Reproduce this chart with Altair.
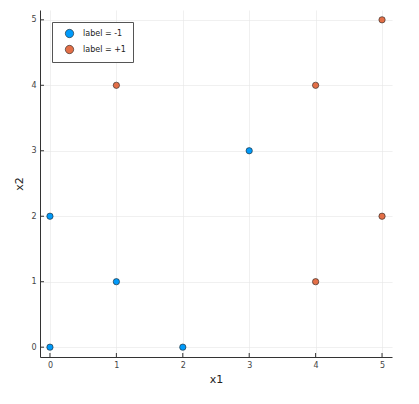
import altair as alt
import pandas as pd

x_neg = [0, 0, 1, 2, 3]
y_neg = [0, 2, 1, 0, 3]
x_pos = [1, 4, 5, 5, 4]
y_pos = [4, 4, 5, 2, 1]
ticks = [0, 1, 2, 3, 4, 5]

df = pd.DataFrame({
    "x1": x_neg + x_pos,
    "x2": y_neg + y_pos,
    "label": ["label = -1"] * len(x_neg) + ["label = +1"] * len(x_pos),
})
tdf = pd.DataFrame({"x1": ticks, "x2": ticks})

W, H = 352, 347
xs = alt.Scale(domain=[-0.15, 5.15], nice=False, zero=False)
ys = alt.Scale(domain=[-0.15, 5.15], nice=False, zero=False)

axis_common = dict(
    values=ticks, grid=True, gridColor="#e6e6e6", gridWidth=0.6,
    domainColor="#333333", domainWidth=1, ticks=False,
    labelFont="DejaVu Sans", labelFontSize=8, labelColor="#444444",
    titleFont="DejaVu Sans", titleFontSize=11, titleFontWeight="normal",
    titleColor="#222222", format="d",
)
xaxis = alt.Axis(title="x1", labelPadding=4, titlePadding=4, **axis_common)
yaxis = alt.Axis(title="x2", labelPadding=4, titlePadding=6, **axis_common)

points = alt.Chart(df).mark_circle(size=40, opacity=1, stroke="#222222", strokeWidth=0.6).encode(
    x=alt.X("x1:Q", scale=xs, axis=xaxis),
    y=alt.Y("x2:Q", scale=ys, axis=yaxis),
    color=alt.Color("label:N",
                    scale=alt.Scale(domain=["label = -1", "label = +1"], range=["#009AFA", "#E36F47"]),
                    legend=alt.Legend(title=None, orient="none", legendX=12, legendY=12,
                                      fillColor="white", strokeColor="#555555", padding=7,
                                      symbolSize=70, symbolStrokeColor="#222222", symbolStrokeWidth=0.6,
                                      symbolOffset=6, labelOffset=9,
                                      labelExpr="datum.label + '\u00a0\u00a0\u00a0\u00a0'",
                                      labelFont="DejaVu Sans", labelFontSize=8, labelColor="#222222",
                                      rowPadding=5, labelLimit=120,
                                      symbolType="circle")),
)

xt = alt.Chart(tdf).mark_rule(color="#333333", strokeWidth=1).encode(
    x=alt.X("x1:Q", scale=xs, axis=xaxis), y=alt.value(H), y2=alt.value(H - 4))
yt = alt.Chart(tdf).mark_rule(color="#333333", strokeWidth=1).encode(
    y=alt.Y("x2:Q", scale=ys, axis=yaxis), x=alt.value(0), x2=alt.value(4))

chart = alt.layer(xt, yt, points).properties(
    width=W, height=H,
    autosize=alt.AutoSizeParams(type="none"),
    padding={"left": 32, "top": 2, "right": 11, "bottom": 39},
).configure_view(stroke=None)

chart.save("out.html", embed_options={"renderer": "svg", "actions": False})
